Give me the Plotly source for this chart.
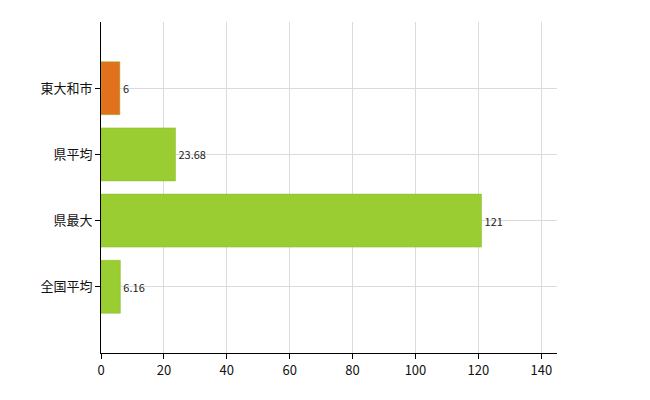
import plotly.graph_objects as go

categories = ["全国平均", "県最大", "県平均", "東大和市"]
values = [6.16, 121, 23.68, 6]
labels = ["6.16", "121", "23.68", "6"]
colors = ["#9ACD32", "#9ACD32", "#9ACD32", "#E2711D"]

fig = go.Figure()
fig.add_trace(go.Bar(
    y=list(range(len(categories))), x=values, orientation="h",
    marker=dict(color=colors, line=dict(color="#8AB82A", width=0.5)),
    width=0.8, text=labels, textposition="outside", cliponaxis=False,
    textfont=dict(size=11, color="#222", family="Noto Sans CJK JP"),
))
fig.update_layout(
    width=650, height=400, showlegend=False,
    plot_bgcolor="white", paper_bgcolor="white",
    margin=dict(l=93, r=101, t=14, b=55),
    font=dict(family="Noto Sans CJK JP", size=13, color="#111"),
)
fig.update_xaxes(range=[0, 145], tickvals=list(range(0, 141, 20)),
                 showgrid=True, gridcolor="#D8DCE0",
                 ticks="outside", ticklen=5, tickcolor="black",
                 showline=True, linecolor="black", zeroline=False)
fig.update_yaxes(range=[-1, 4], tickvals=list(range(len(categories))),
                 ticktext=categories, showgrid=True, gridcolor="#D8DCE0",
                 ticks="outside", ticklen=5, tickcolor="black",
                 showline=True, linecolor="black", zeroline=False)
fig.write_html("out.html")
